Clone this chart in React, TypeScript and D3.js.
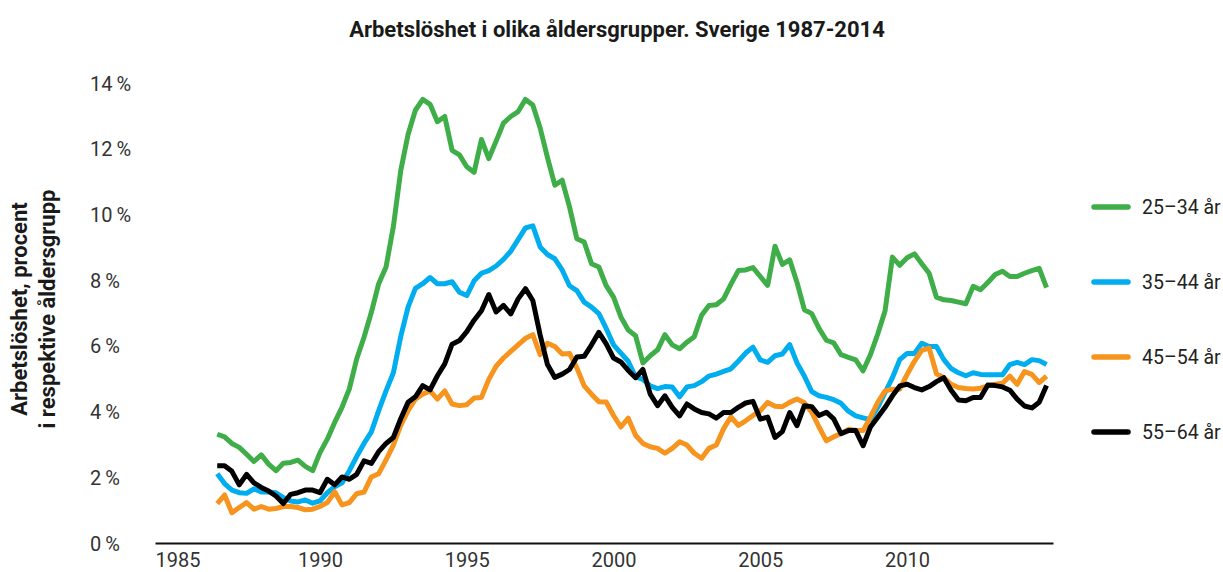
import React, { useEffect, useRef } from 'react';
import * as d3 from 'd3';

// quarterly observations, first point = 3rd quarter 1986
const startYear = 1986.5;
const xTicks = [1985, 1990, 1995, 2000, 2005, 2010];
const yTicks = [0, 2, 4, 6, 8, 10, 12, 14];

const age25to34 = [
  3.28, 3.2, 3.0, 2.88, 2.67, 2.45, 2.65, 2.37, 2.17, 2.4, 2.42, 2.49, 2.3, 2.17, 2.72, 3.13, 3.64, 4.1, 4.66, 5.57, 6.23, 6.99,
  7.86, 8.37, 9.6, 11.3, 12.4, 13.14, 13.47, 13.32, 12.79, 12.95, 11.92, 11.78, 11.42, 11.25, 12.25, 11.67, 12.2, 12.75, 12.95, 13.1,
  13.47, 13.3, 12.6, 11.7, 10.86, 11.01, 10.2, 9.23, 9.13, 8.47, 8.37, 7.8, 7.45, 6.85,
  6.45, 6.28, 5.45, 5.67, 5.85, 6.31, 6.0, 5.88, 6.08, 6.25, 6.9, 7.2, 7.22, 7.4, 7.85, 8.26, 8.28, 8.35, 8.08, 7.81, 9.0,
  8.45, 8.59, 7.9, 7.07, 6.95, 6.5, 6.14, 6.06, 5.7, 5.62, 5.54, 5.21, 5.7, 6.33, 7.04, 8.67, 8.42, 8.65, 8.77, 8.47,
  8.18, 7.45, 7.37, 7.35, 7.3, 7.25, 7.78, 7.68, 7.9, 8.14, 8.24, 8.08, 8.08, 8.18, 8.26, 8.33, 7.74,
];

const age35to44 = [
  2.08, 1.78, 1.58, 1.5, 1.48, 1.62, 1.52, 1.52, 1.5, 1.35, 1.25, 1.22, 1.28, 1.18, 1.25, 1.5, 1.68, 1.8, 2.17, 2.6, 3.0, 3.35,
  4.0, 4.6, 5.15, 6.25, 7.15, 7.72,
  7.86, 8.05, 7.86, 7.86, 7.92, 7.6, 7.5, 7.95, 8.18, 8.26, 8.4, 8.6, 8.85, 9.2, 9.56, 9.62, 8.98, 8.75, 8.62, 8.28, 7.8, 7.65, 7.3, 7.15,
  6.95, 6.5, 6.0, 5.75, 5.5, 5.03, 4.95, 4.75, 4.67, 4.73, 4.72, 4.42, 4.72, 4.76, 4.88, 5.05, 5.11, 5.19, 5.27, 5.5,
  5.75, 5.93, 5.54, 5.47, 5.67, 5.72, 6.01, 5.45, 5.05, 4.58, 4.45, 4.4,
  4.33, 4.22, 3.98, 3.84, 3.78, 3.72, 4.1, 4.55, 5.0, 5.55, 5.74, 5.74, 6.05, 5.95, 5.95, 5.55, 5.28, 5.15, 5.06, 5.15,
  5.1, 5.09, 5.09, 5.09, 5.4, 5.47, 5.4, 5.55, 5.52, 5.4,
];

const age45to54 = [
  1.17, 1.43, 0.89, 1.05, 1.2, 1.0, 1.08, 1.0, 1.02, 1.08, 1.08, 1.05, 0.98, 1.0, 1.08, 1.2, 1.53,
  1.13, 1.2, 1.47, 1.52, 1.98, 2.08, 2.5, 2.95, 3.55, 4.0, 4.35, 4.5, 4.6, 4.35, 4.6, 4.2, 4.15, 4.18, 4.38, 4.4,
  4.95, 5.35, 5.6, 5.8, 6.0, 6.2, 6.31, 5.7, 6.05, 5.95, 5.72, 5.74, 5.3, 4.75, 4.5, 4.27, 4.26, 3.85, 3.5, 3.77,
  3.25, 3.0, 2.9, 2.85, 2.7, 2.85, 3.05, 2.95, 2.7, 2.55, 2.85, 2.95, 3.45, 3.81, 3.55, 3.69, 3.85, 4.0, 4.25, 4.13,
  4.12, 4.25, 4.35, 4.24, 3.95, 3.5, 3.08, 3.2, 3.3, 3.43, 3.4, 3.39, 3.8, 4.25, 4.6, 4.65, 4.65, 5.1, 5.5, 5.83,
  5.9, 5.12, 5.0, 4.8, 4.7, 4.67, 4.66, 4.68, 4.75, 4.8, 4.83, 5.05, 4.8, 5.19, 5.1, 4.85, 5.05,
];

const age55to64 = [
  2.32, 2.32, 2.15, 1.74, 2.06, 1.8, 1.66, 1.55, 1.4, 1.17, 1.45, 1.5, 1.58, 1.58, 1.5, 1.91, 1.74, 1.98, 1.91, 2.06,
  2.47, 2.39, 2.75, 3.0, 3.18, 3.75, 4.25, 4.42,
  4.76, 4.63, 5.06, 5.42, 6.02, 6.13, 6.4, 6.75, 7.04, 7.53, 7.0, 7.2, 6.94, 7.4, 7.71, 7.35,
  6.3, 5.4, 5.01, 5.11, 5.25, 5.63, 5.65, 6.0, 6.38, 6.03, 5.6, 5.48, 5.22, 5.0, 5.25, 4.5, 4.15, 4.45,
  4.1, 3.84, 4.2, 4.05, 3.94, 3.9, 3.77, 3.94, 3.94, 4.1, 4.23, 4.28, 3.74, 3.8, 3.18, 3.36, 3.94, 3.54, 4.15, 4.12,
  3.85, 3.95, 3.75, 3.3, 3.39, 3.39, 2.93, 3.5, 3.8, 4.1, 4.45, 4.75, 4.8, 4.7, 4.63, 4.73, 4.88, 5.0, 4.62, 4.32,
  4.3, 4.4, 4.4, 4.78, 4.76, 4.72, 4.62, 4.35, 4.14, 4.08, 4.25, 4.76,
];

const series = [
  { name: '25–34 år', color: '#3fae49', values: age25to34 },
  { name: '35–44 år', color: '#00aeef', values: age35to44 },
  { name: '45–54 år', color: '#f7941d', values: age45to54 },
  { name: '55–64 år', color: '#000000', values: age55to64 },
];

const W = 1223;
const H = 572;
const font = 'Roboto, "Liberation Sans", sans-serif';

const Chart = () => {
  const ref = useRef<SVGSVGElement>(null);

  useEffect(() => {
    const svg = d3.select(ref.current);
    svg.selectAll('*').remove();

    const x = d3.scaleLinear().domain([1984.38, 2014.97]).range([155, 1053]);
    const y = d3.scaleLinear().domain([0, 14]).range([542, 82]);

    // title
    svg
      .append('text')
      .attr('x', 617)
      .attr('y', 37)
      .attr('text-anchor', 'middle')
      .attr('font-family', font)
      .attr('font-weight', 700)
      .attr('font-size', 22)
      .attr('fill', '#1a1a1a')
      .text('Arbetslöshet i olika åldersgrupper. Sverige 1987-2014');

    // y axis title, two lines
    const yTitle = svg
      .append('text')
      .attr('transform', 'translate(27,309) rotate(-90)')
      .attr('text-anchor', 'middle')
      .attr('font-family', font)
      .attr('font-weight', 700)
      .attr('font-size', 22)
      .attr('fill', '#1a1a1a');
    yTitle.append('tspan').attr('x', 0).attr('dy', 0).text('Arbetslöshet, procent');
    yTitle.append('tspan').attr('x', 0).attr('dy', 28).text('i respektive åldersgrupp');

    // y axis, labels are left aligned
    const yAxis = svg
      .append('g')
      .attr('transform', 'translate(135,0)')
      .call(
        d3
          .axisLeft(y)
          .tickValues(yTicks)
          .tickSize(0)
          .tickFormat((d) => `${d}\u2009%`)
      );
    yAxis.select('.domain').remove();
    yAxis
      .selectAll('text')
      .attr('text-anchor', 'start')
      .attr('x', -45)
      .attr('dy', '0.4em')
      .attr('font-family', font)
      .attr('font-size', 20)
      .attr('fill', '#333');

    // x axis
    const xAxis = svg
      .append('g')
      .attr('transform', 'translate(0,543)')
      .call(
        d3
          .axisBottom(x)
          .tickValues(xTicks)
          .tickSize(0)
          .tickPadding(10)
          .tickFormat(d3.format('d'))
      );
    xAxis.select('.domain').attr('stroke', '#111').attr('stroke-width', 2);
    xAxis
      .selectAll('text')
      .attr('font-family', font)
      .attr('font-size', 20)
      .attr('fill', '#333');
    // first label is pushed inside the axis start
    xAxis
      .select('.tick text')
      .attr('text-anchor', 'start')
      .attr('x', x.range()[0] - x(xTicks[0]));

    const line = d3
      .line<number>()
      .x((d, i) => x(startYear + i * 0.25))
      .y((d) => y(d));

    svg
      .append('g')
      .selectAll('path')
      .data(series)
      .enter()
      .append('path')
      .attr('d', (d) => line(d.values))
      .attr('fill', 'none')
      .attr('stroke', (d) => d.color)
      .attr('stroke-width', 5)
      .attr('stroke-linejoin', 'round');

    // legend
    const legend = svg
      .append('g')
      .selectAll('g')
      .data(series)
      .enter()
      .append('g')
      .attr('transform', (d, i) => `translate(1092,${207 + i * 75})`);
    legend
      .append('line')
      .attr('x1', 2)
      .attr('x2', 36)
      .attr('stroke', (d) => d.color)
      .attr('stroke-width', 5.5)
      .attr('stroke-linecap', 'round');
    legend
      .append('text')
      .attr('x', 50)
      .attr('dy', '0.35em')
      .attr('font-family', font)
      .attr('font-size', 19.5)
      .attr('fill', '#222')
      .text((d) => d.name);
  }, []);

  return (
    <svg
      ref={ref}
      width={W}
      height={H}
      style={{ position: 'absolute', left: 0, top: 0, background: '#fff' }}
    />
  );
};

export default function App() {
  return <Chart />;
}
